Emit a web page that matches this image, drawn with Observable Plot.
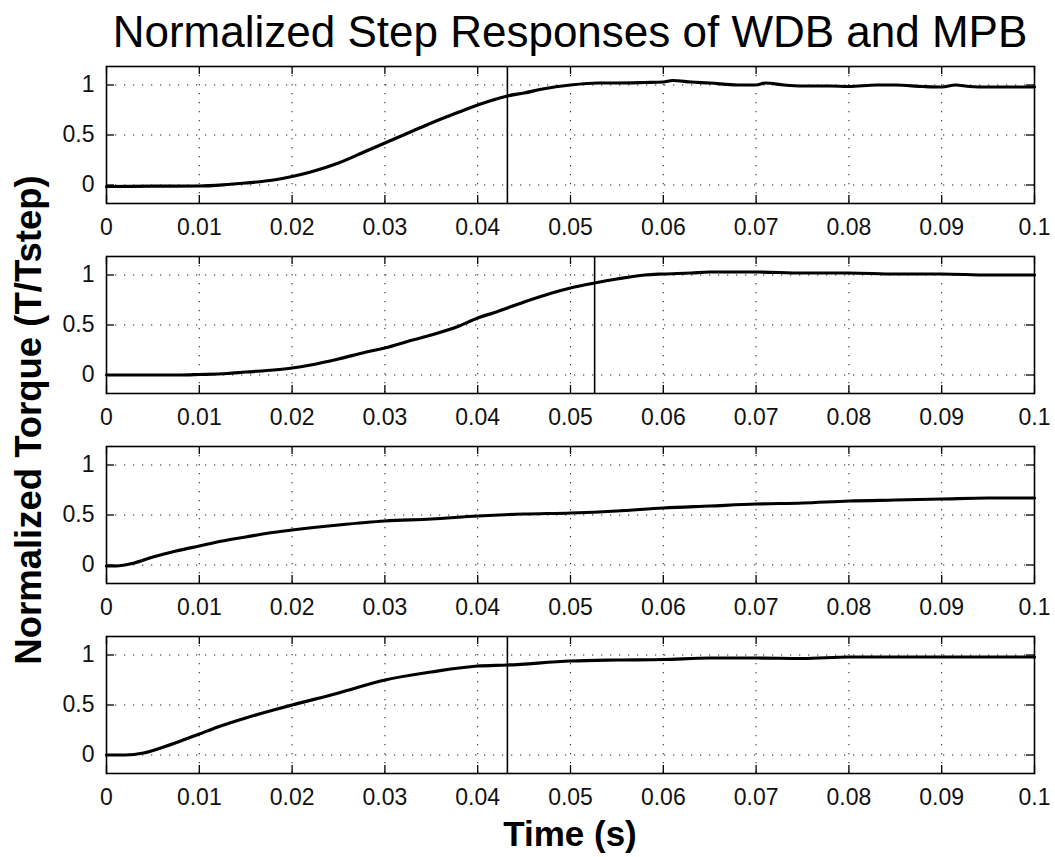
<!DOCTYPE html>
<html>
<head>
<meta charset="utf-8">
<script src="https://cdn.jsdelivr.net/npm/d3@7"></script>
<script src="https://cdn.jsdelivr.net/npm/@observablehq/plot@0.6"></script>
<style>
  body { margin: 0; background: #fff; }
  #wrap { position: relative; width: 1055px; height: 857px; background: #fff; font-family: "Liberation Sans", Arial, sans-serif; }
  #wrap > div.panel { position: absolute; left: 0; }
  #overlay { position: absolute; left: 0; top: 0; pointer-events: none; }
</style>
</head>
<body>
<div id="wrap"></div>
<script>
// ---- Data ----
const titleText = "Normalized Step Responses of WDB and MPB";
const xLabelText = "Time (s)";
const yLabelText = "Normalized Torque (T/Tstep)";

const xTicks = [0, 0.01, 0.02, 0.03, 0.04, 0.05, 0.06, 0.07, 0.08, 0.09, 0.1];
const xTickLabels = ["0", "0.01", "0.02", "0.03", "0.04", "0.05", "0.06", "0.07", "0.08", "0.09", "0.1"];
const yTicks = [0, 0.5, 1];
const yTickLabels = ["0", "0.5", "1"];
const xDomain = [0, 0.1];
const yDomain = [-0.185, 1.185];

// Panel 1
const t1 = [0, 0.005, 0.01, 0.013, 0.015, 0.018, 0.02, 0.022, 0.025, 0.028, 0.03, 0.033, 0.035, 0.038, 0.04, 0.042, 0.0432, 0.045, 0.047, 0.05, 0.053, 0.055, 0.058, 0.06, 0.061, 0.063, 0.065, 0.068, 0.07, 0.071, 0.073, 0.075, 0.078, 0.08, 0.083, 0.085, 0.088, 0.09, 0.0915, 0.093, 0.095, 0.098, 0.1];
const v1 = [-0.015, -0.012, -0.01, 0.005, 0.02, 0.05, 0.085, 0.13, 0.22, 0.34, 0.42, 0.54, 0.62, 0.73, 0.8, 0.86, 0.89, 0.92, 0.96, 1.0, 1.02, 1.02, 1.025, 1.03, 1.045, 1.03, 1.02, 1.0, 1.0, 1.02, 1.0, 0.99, 0.99, 0.985, 1.0, 1.0, 0.985, 0.98, 1.0, 0.985, 0.98, 0.98, 0.98];
// Panel 2
const t2 = [0, 0.005, 0.008, 0.01, 0.013, 0.015, 0.018, 0.02, 0.022, 0.025, 0.028, 0.03, 0.033, 0.035, 0.038, 0.04, 0.042, 0.045, 0.048, 0.05, 0.0526, 0.055, 0.058, 0.06, 0.063, 0.065, 0.068, 0.07, 0.075, 0.08, 0.085, 0.09, 0.095, 0.1];
const v2 = [0, 0, 0, 0.005, 0.015, 0.03, 0.05, 0.07, 0.1, 0.16, 0.23, 0.27, 0.35, 0.4, 0.49, 0.57, 0.63, 0.73, 0.82, 0.87, 0.92, 0.96, 1.0, 1.01, 1.02, 1.03, 1.03, 1.03, 1.02, 1.02, 1.01, 1.01, 1.0, 1.0];
// Panel 3
const t3 = [0, 0.001, 0.003, 0.005, 0.0075, 0.01, 0.0125, 0.015, 0.0175, 0.02, 0.025, 0.03, 0.035, 0.04, 0.045, 0.05, 0.055, 0.06, 0.065, 0.07, 0.075, 0.08, 0.085, 0.09, 0.095, 0.1];
const v3 = [-0.01, -0.01, 0.02, 0.08, 0.14, 0.19, 0.24, 0.28, 0.32, 0.35, 0.4, 0.44, 0.46, 0.49, 0.51, 0.52, 0.54, 0.57, 0.59, 0.61, 0.62, 0.64, 0.65, 0.66, 0.67, 0.67];
// Panel 4
const t4 = [0, 0.002, 0.004, 0.006, 0.008, 0.01, 0.012, 0.015, 0.018, 0.02, 0.025, 0.03, 0.035, 0.04, 0.0432, 0.05, 0.055, 0.06, 0.065, 0.07, 0.075, 0.08, 0.09, 0.1];
const v4 = [0, 0, 0.02, 0.075, 0.14, 0.21, 0.28, 0.37, 0.45, 0.5, 0.62, 0.75, 0.83, 0.89, 0.9, 0.94, 0.95, 0.955, 0.97, 0.97, 0.965, 0.98, 0.98, 0.98];

// Vertical marker lines (settling time) per panel; null = none
const markers = [0.0432, 0.0526, null, 0.0432];

const seriesT = [t1, t2, t3, t4];
const seriesV = [v1, v2, v3, v4];

// ---- Layout ----
const W = 1055;
const mL = 106, mR = 21, mT = 10, mB = 43;
const plotH = 137;
const plotW = W - mL - mR;
const panelTops = [56, 246, 436, 626];
const tickLen = 8;

const wrap = document.getElementById("wrap");
const fmtX = d => xTickLabels[xTicks.indexOf(d)];
const fmtY = d => yTickLabels[yTicks.indexOf(d)];

seriesT.forEach((ts, i) => {
  const data = ts.map((t, j) => ({t, v: seriesV[i][j]}));
  const marks = [
    Plot.gridX(xTicks, {stroke: "#222", strokeOpacity: 1, strokeWidth: 1, strokeDasharray: "1.3,7.7"}),
    Plot.gridY(yTicks, {stroke: "#222", strokeOpacity: 1, strokeWidth: 1, strokeDasharray: "1.3,7.7"}),
    // inward ticks, MATLAB style
    Plot.ruleX(xTicks, {x: d => d, insetTop: plotH - tickLen, stroke: "black", strokeWidth: 1.3}),
    Plot.ruleX(xTicks, {x: d => d, insetBottom: plotH - tickLen, stroke: "black", strokeWidth: 1.3}),
    Plot.ruleY(yTicks, {y: d => d, insetRight: plotW - tickLen, stroke: "black", strokeWidth: 1.3}),
    Plot.ruleY(yTicks, {y: d => d, insetLeft: plotW - tickLen, stroke: "black", strokeWidth: 1.3}),
    Plot.axisX(xTicks, {tickSize: 0, tickPadding: 15, tickFormat: fmtX, label: null, fontSize: 23, fill: "#111"}),
    Plot.axisY(yTicks, {tickSize: 0, tickPadding: 12, tickFormat: fmtY, label: null, fontSize: 23, fill: "#111"}),
    Plot.line(data, {x: "t", y: "v", stroke: "black", strokeWidth: 3.2, curve: "monotone-x"}),
  ];
  if (markers[i] != null) {
    marks.push(Plot.ruleX([markers[i]], {x: d => d, stroke: "black", strokeWidth: 1.6}));
  }
  marks.push(Plot.frame({stroke: "black", strokeWidth: 1.6}));
  const chart = Plot.plot({
    width: W,
    height: mT + plotH + mB,
    marginLeft: mL, marginRight: mR, marginTop: mT, marginBottom: mB,
    x: {domain: xDomain},
    y: {domain: yDomain},
    style: {fontFamily: '"Liberation Sans", Arial, sans-serif', fontSize: "23px", background: "transparent", overflow: "visible"},
    marks
  });
  const div = document.createElement("div");
  div.className = "panel";
  div.style.top = panelTops[i] + "px";
  div.appendChild(chart);
  wrap.appendChild(div);
});

// Title and axis labels
const ns = "http://www.w3.org/2000/svg";
const ov = document.createElementNS(ns, "svg");
ov.setAttribute("id", "overlay");
ov.setAttribute("width", W);
ov.setAttribute("height", 857);
const cx = mL + plotW / 2;
function addText(txt, attrs) {
  const el = document.createElementNS(ns, "text");
  for (const k in attrs) el.setAttribute(k, attrs[k]);
  el.textContent = txt;
  ov.appendChild(el);
}
addText(titleText, {x: cx, y: 47, "text-anchor": "middle", "font-size": 44, "font-family": '"Liberation Sans", Arial, sans-serif', fill: "#000"});
addText(xLabelText, {x: cx, y: 846, "text-anchor": "middle", "font-size": 35, "font-weight": "bold", "font-family": '"Liberation Sans", Arial, sans-serif', fill: "#000"});
addText(yLabelText, {x: 0, y: 0, transform: "translate(41,420) rotate(-90)", "text-anchor": "middle", "font-size": 36.5, "font-weight": "bold", "font-family": '"Liberation Sans", Arial, sans-serif', fill: "#000"});
wrap.appendChild(ov);
</script>
</body>
</html>
